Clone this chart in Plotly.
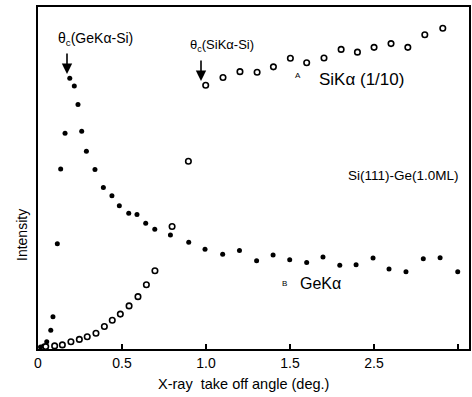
import plotly.graph_objects as go

# GeKα (filled dots)
ge_angle = [0.015, 0.033, 0.052, 0.076, 0.089, 0.115, 0.135, 0.161, 0.189, 0.216,
            0.238, 0.260, 0.288, 0.339, 0.389, 0.440, 0.484, 0.540, 0.589, 0.641,
            0.695, 0.788, 0.897, 0.994, 1.099, 1.199, 1.301, 1.399, 1.498, 1.599,
            1.696, 1.796, 1.893, 1.994, 2.089, 2.190, 2.293, 2.393, 2.498]
ge_intensity = [0.6, 0.9, 2.1, 5.5, 9.4, 30.8, 52.6, 63.1, 79.2, 76.9,
                71.5, 63.7, 57.8, 52.5, 47.2, 44.8, 41.9, 39.7, 39.3, 36.8,
                35.0, 33.3, 31.2, 29.2, 27.7, 28.8, 25.8, 27.5, 26.1, 25.3,
                26.9, 24.5, 24.6, 26.6, 23.4, 22.6, 26.4, 26.7, 22.6]

# SiKα (1/10) (open circles)
si_angle = [0.046, 0.099, 0.145, 0.196, 0.246, 0.293, 0.345, 0.395, 0.442, 0.490,
            0.542, 0.595, 0.645, 0.696, 0.798, 0.895, 0.998, 1.101, 1.202, 1.304,
            1.401, 1.502, 1.599, 1.702, 1.804, 1.901, 2.000, 2.101, 2.201, 2.302, 2.409]
si_intensity = [0.7, 0.9, 1.2, 2.1, 2.8, 3.6, 4.6, 6.6, 8.4, 10.2,
                12.6, 15.3, 18.8, 22.9, 35.8, 54.9, 77.1, 79.4, 81.1, 80.9,
                82.5, 85.0, 83.7, 85.1, 87.6, 86.8, 88.2, 89.3, 88.2, 91.9, 93.8]

tick_vals = [0, 0.5, 1.0, 1.5, 2.0, 2.5]
tick_text = ["0", "0.5", "1.0", "1.5", "2.5", ""]

W, H = 472, 397
L, R, T, B = 38, 3, 7, 48
XMAX = 2.565
YMAX = 100.0


def px2x(px):
    return (px - L) / (W - L - R)


def px2y(py):
    return (H - B - py) / (H - B - T)


FONT = "Liberation Sans"

fig = go.Figure()
fig.add_trace(go.Scatter(x=ge_angle, y=ge_intensity, mode="markers",
                         marker=dict(size=5, color="black"), name="GeKα"))
fig.add_trace(go.Scatter(x=si_angle, y=si_intensity, mode="markers",
                         marker=dict(size=5.5, color="white", symbol="circle",
                                     line=dict(color="black", width=1.6)),
                         name="SiKα (1/10)"))

ann = []


def text(s, px, py, size, xanchor="center", angle=0):
    ann.append(dict(x=px2x(px), y=px2y(py), xref="paper", yref="paper", text=s,
                    showarrow=False, xanchor=xanchor, yanchor="middle",
                    textangle=angle,
                    font=dict(size=size, color="black", family=FONT)))


def arrow(px, py_from, py_to):
    ann.append(dict(x=px2x(px), y=px2y(py_to), xref="paper", yref="paper", text="",
                    showarrow=True, ax=0, ay=py_from - py_to, arrowhead=2,
                    arrowsize=1.3, arrowwidth=1.6, arrowcolor="black"))


text("θ<sub>c</sub>(GeKα-Si)", 95, 39, 14)
arrow(67, 52, 74)
text("θ<sub>c</sub>(SiKα-Si)", 222, 45, 13)
arrow(201, 59, 81)
text("SiKα (1/10)", 317, 79, 17, "left")
text("A", 298, 75, 8)
text("Si(111)-Ge(1.0ML)", 461, 176, 13.5, "right")
text("GeKα", 298, 283, 16, "left")
text("B", 284, 283, 8)
text("Intensity", 22, 235, 14, "center", -90)
text("X-ray  take off angle (deg.)", 243, 384, 14.5)

fig.update_layout(
    width=W, height=H,
    margin=dict(l=L, r=R, t=T, b=B, pad=0),
    paper_bgcolor="white", plot_bgcolor="white",
    showlegend=False,
    font=dict(family=FONT, color="black"),
    annotations=ann,
    xaxis=dict(range=[0, XMAX], showgrid=False, zeroline=False, showline=True,
               linecolor="black", linewidth=2, mirror=True, ticks="inside",
               ticklen=5, tickwidth=1.5, tickcolor="black",
               tickvals=tick_vals, ticktext=tick_text,
               tickfont=dict(size=14, family=FONT), automargin=False),
    yaxis=dict(range=[0, YMAX], showgrid=False, zeroline=False, showline=True,
               linecolor="black", linewidth=2, mirror=True, showticklabels=False,
               ticks="", automargin=False),
)

fig.write_html("out.html", config={"displayModeBar": False},
               post_script="document.body.style.margin='0';document.body.style.overflow='hidden';")
